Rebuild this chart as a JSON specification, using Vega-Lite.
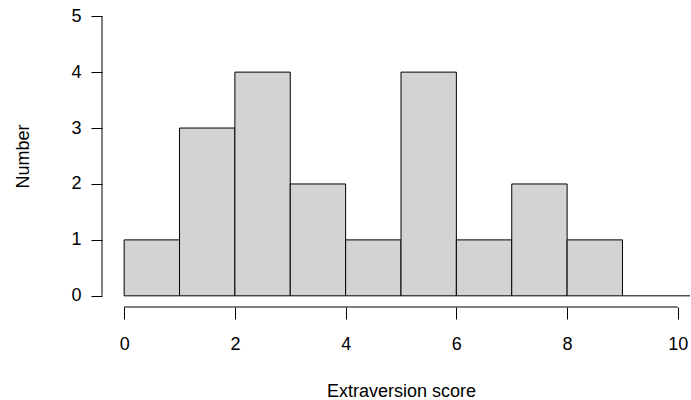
{
  "$schema": "https://vega.github.io/schema/vega-lite/v6.json",
  "width": 598,
  "height": 302,
  "autosize": "none",
  "padding": {"left": 102, "top": 5, "right": 0, "bottom": 93},
  "background": "white",
  "config": {
    "view": {"stroke": null},
    "font": "Liberation Sans"
  },
  "layer": [
    {
      "data": {"values": [
        {"start": 0, "end": 1, "count": 1, "base": 0},
        {"start": 1, "end": 2, "count": 3, "base": 0},
        {"start": 2, "end": 3, "count": 4, "base": 0},
        {"start": 3, "end": 4, "count": 2, "base": 0},
        {"start": 4, "end": 5, "count": 1, "base": 0},
        {"start": 5, "end": 6, "count": 4, "base": 0},
        {"start": 6, "end": 7, "count": 1, "base": 0},
        {"start": 7, "end": 8, "count": 2, "base": 0},
        {"start": 8, "end": 9, "count": 1, "base": 0}
      ]},
      "mark": {"type": "rect", "fill": "#d3d3d3", "stroke": "black", "strokeWidth": 1},
      "encoding": {
        "x": {"field": "start", "type": "quantitative", "scale": {"domain": [-0.4, 10.4], "nice": false, "zero": false},
          "axis": {"values": [0, 2, 4, 6, 8, 10], "format": "d", "title": "Extraversion score", "grid": false, "domain": false,
            "tickColor": "black", "tickSize": 12, "tickWidth": 1, "labelColor": "black", "titleColor": "black",
            "labelFont": "Liberation Sans", "titleFont": "Liberation Sans", "labelFontSize": 18, "titleFontSize": 18, "titleFontWeight": "normal",
            "labelPadding": 16, "titlePadding": 29}},
        "x2": {"field": "end"},
        "y": {"field": "count", "type": "quantitative", "scale": {"domain": [-0.2, 5.2], "nice": false, "zero": false},
          "axis": {"values": [0, 1, 2, 3, 4, 5], "format": "d", "title": "Number", "labelAngle": 0, "grid": false, "domain": false,
            "tickColor": "black", "tickSize": 11, "tickWidth": 1, "labelColor": "black", "titleColor": "black",
            "labelFont": "Liberation Sans", "titleFont": "Liberation Sans", "labelFontSize": 18, "titleFontSize": 18, "titleFontWeight": "normal",
            "labelPadding": 10, "titlePadding": 38}},
        "y2": {"field": "base"}
      }
    },
    {
      "data": {"values": [
        {"x1": 9, "x2": 10.22, "y1": 0, "y2": 0},
        {"x1": 0, "x2": 10, "y1": -0.2, "y2": -0.2},
        {"x1": -0.4, "x2": -0.4, "y1": 0, "y2": 5}
      ]},
      "mark": {"type": "rule", "color": "black", "strokeWidth": 1},
      "encoding": {
        "x": {"field": "x1", "type": "quantitative"},
        "x2": {"field": "x2"},
        "y": {"field": "y1", "type": "quantitative"},
        "y2": {"field": "y2"}
      }
    }
  ]
}
